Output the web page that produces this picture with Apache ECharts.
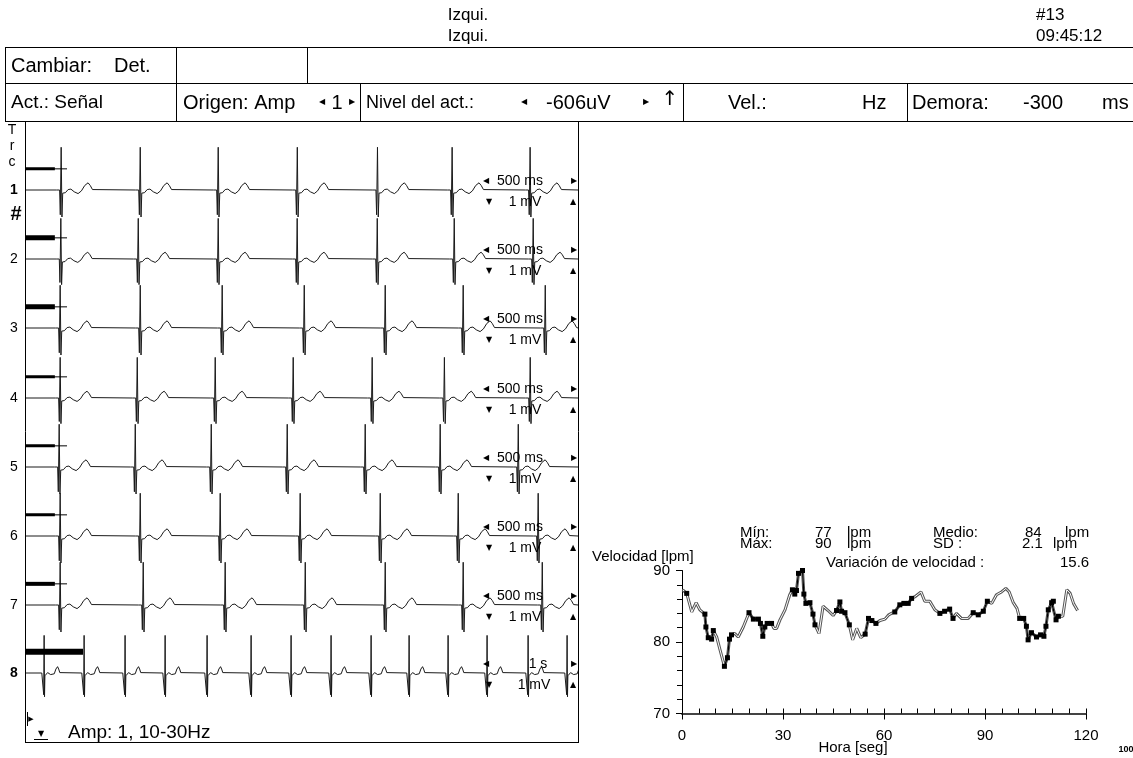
<!DOCTYPE html>
<html>
<head>
<meta charset="utf-8">
<script src="https://cdn.jsdelivr.net/npm/echarts@6/dist/echarts.min.js"></script>
<style>
html, body { margin: 0; padding: 0; background: #fff; }
#main { width: 1133px; height: 758px; }
</style>
</head>
<body>
<div id="main"></div>
<script>
var FONT = "'Liberation Sans', Arial, sans-serif";
var SYM = "'DejaVu Sans', sans-serif";

// picos R (ms) de cada traza; trazas 1-7 muestran 5 s, la traza 8 muestra 10 s
var beatsT1 = [325, 1040, 1745, 2460, 3185, 3860, 4565];
var beatsT2 = [322, 1022, 1745, 2459, 3183, 3879, 4593];
var beatsT3 = [316, 1040, 1781, 2523, 3255, 3960, 4702];
var beatsT4 = [316, 1013, 1718, 2423, 3137, 3790, 4566];
var beatsT5 = [307, 995, 1682, 2369, 3074, 3752, 4458];
var beatsT6 = [316, 1040, 1763, 2486, 3210, 3915, 4638];
var beatsT7 = [316, 1067, 1808, 2532, 3255, 3960, 4675];
var beatsT8 = [344, 1067, 1808, 2532, 3291, 4087, 4810, 5533, 6257, 6944, 7649, 8354, 9096, 9801];

// forma del latido: [ms respecto al pico R, amplitud relativa]
var beatShape = [[-40, 0], [-12, 0], [-6, -0.55], [2, 0.95], [9, -0.6], [16, -0.07], [40, -0.06],
  [65, 0.01], [90, 0.02], [120, -0.04], [155, -0.08], [185, -0.02], [215, 0.1], [245, 0.16],
  [265, 0.1], [285, 0.01], [300, 0]];

var traceBeats = [beatsT1, beatsT2, beatsT3, beatsT4, beatsT5, beatsT6, beatsT7, beatsT8];
var traceSpan = [5000, 5000, 5000, 5000, 5000, 5000, 5000, 10000];
var traceGain = [1, 0.95, 1, 0.95, 1, 1, 1, 0.88];
var traceNames = ['1', '2', '3', '4', '5', '6', '7', '8'];
var traceScale = ['500 ms', '500 ms', '500 ms', '500 ms', '500 ms', '500 ms', '500 ms', '1 s'];
var calEnd = [270, 270, 270, 270, 270, 270, 270, 1050];
var calTail = [380, 380, 380, 380, 380, 380, 380, 1050];
var calLevel = 0.47;

// tendencia de frecuencia cardiaca (lpm) frente a tiempo (s)
var hrTime = [0.2, 1.4, 2.9, 4.2, 5.3, 6.8, 7.1, 7.8, 8.8, 9.3, 10.3, 11.3, 12.6, 13.5, 14.1, 14.7,
  15.7, 16.7, 18.2, 19.9, 21.2, 22.7, 23.3, 24.0, 24.6, 25.3, 26.6, 27.3, 28.1, 29.1, 30.6, 32.0,
  32.8, 33.5, 34.0, 34.6, 35.8, 36.2, 36.8, 38.0, 38.9, 39.5, 40.7, 41.9, 43.4, 44.9, 45.9, 46.9,
  47.4, 48.4, 49.7, 50.7, 51.9, 53.1, 54.4, 55.4, 56.4, 57.6, 58.8, 60.3, 61.4, 62.2, 63.2, 64.7,
  65.9, 67.2, 68.2, 69.1, 71.0, 72.1, 73.6, 75.1, 76.6, 78.0, 79.5, 80.5, 81.5, 83.0, 85.0, 86.5,
  88.0, 89.5, 90.7, 92.0, 93.4, 94.9, 96.2, 97.2, 98.4, 99.5, 100.3, 101.5, 102.3, 102.8, 103.8,
  105.3, 106.5, 107.5, 108.1, 108.8, 109.8, 110.3, 111.1, 111.8, 113.1, 114.3, 115.3, 116.3, 117.5];
var hrValue = [87.3, 86.8, 84.2, 85.5, 84.5, 83.9, 82.1, 80.6, 80.4, 81.6, 80.7, 78.9, 76.6, 77.8, 80.4, 81.0,
  81.2, 80.7, 82.1, 84.1, 83.2, 83.2, 82.6, 80.8, 82.1, 82.6, 82.6, 81.9, 81.9, 83.1, 84.5, 86.6,
  87.3, 86.7, 87.2, 89.6, 90.0, 86.7, 85.4, 85.5, 83.9, 82.4, 81.2, 85.0, 84.4, 83.7, 84.4, 85.6,
  84.3, 84.1, 82.4, 80.3, 81.9, 80.6, 81.1, 83.3, 83.0, 82.6, 83.0, 83.2, 83.8, 84.0, 84.2, 85.2,
  85.4, 85.4, 86.1, 86.3, 87.0, 85.7, 85.7, 84.5, 84.0, 84.3, 84.6, 83.3, 84.0, 83.3, 83.3, 84.1,
  83.8, 84.3, 85.7, 85.4, 86.6, 87.0, 87.5, 87.0, 85.5, 84.7, 83.3, 83.3, 82.2, 80.3, 81.3,
  80.7, 81.0, 80.8, 82.2, 84.5, 85.5, 85.7, 83.1, 83.6, 83.6, 87.3, 86.8, 85.4, 84.4];
// 1 = tramo marcado con cuadrados negros
var hrMarked = [0, 1, 0, 0, 0, 1, 1, 1, 1, 1, 0, 0, 1, 1, 1, 1,
  0, 0, 0, 1, 1, 1, 1, 1, 1, 1, 1, 0, 0, 0, 0, 0,
  1, 1, 1, 1, 1, 1, 1, 1, 1, 1, 0, 0, 0, 0, 1, 1,
  1, 1, 1, 0, 0, 0, 1, 1, 1, 1, 0, 0, 0, 0, 1, 1,
  1, 1, 1, 0, 0, 0, 0, 0, 1, 1, 1, 1, 0, 0, 0, 1,
  1, 1, 1, 0, 0, 0, 0, 0, 0, 0, 1, 1, 1, 1, 1,
  1, 1, 1, 1, 1, 1, 1, 1, 1, 0, 0, 0, 0, 0];

// layout de la pantalla
var traceBase = [190, 259, 328, 398, 467, 536, 605, 673];
var calWidth = [3, 5, 5, 3, 3, 3, 4, 6];

function buildTrace(beats, gain, span) {
  var pts = [[0, 0]];
  beats.forEach(function (b) {
    beatShape.forEach(function (p) {
      pts.push([b + p[0], p[1] * gain]);
    });
  });
  pts.push([span, 0]);
  return pts;
}

function txt(x, y, s, size, opts) {
  opts = opts || {};
  var font = (opts.bold ? 'bold ' : '') + size + 'px ' + (opts.family || FONT);
  return {
    type: 'text', x: x, y: y, silent: true, z: 10,
    style: {
      text: s, font: font, fill: '#000',
      align: opts.align || 'left', textAlign: opts.align || 'left',
      verticalAlign: 'middle', textVerticalAlign: 'middle'
    }
  };
}

function ln(x1, y1, x2, y2, w) {
  return {
    type: 'line', silent: true, z: 5,
    shape: { x1: x1, y1: y1, x2: x2, y2: y2 },
    style: { stroke: '#000', lineWidth: w || 1 }
  };
}

var grids = [], xAxes = [], yAxes = [], series = [];
var graphics = [];

for (var i = 0; i < 8; i++) {
  grids.push({ left: 25, width: 553, top: traceBase[i] - 45, height: 90 });
  xAxes.push({ gridIndex: i, type: 'value', min: 0, max: traceSpan[i], show: false });
  yAxes.push({ gridIndex: i, type: 'value', min: -1, max: 1, show: false });
  series.push({
    type: 'line', xAxisIndex: i, yAxisIndex: i, showSymbol: false, animation: false,
    data: buildTrace(traceBeats[i], traceGain[i], traceSpan[i]),
    lineStyle: { color: '#1a1a1a', width: 1 }, z: 3
  });
  // marca de calibracion
  series.push({
    type: 'line', xAxisIndex: i, yAxisIndex: i, showSymbol: false, animation: false,
    data: [[0, calLevel], [calTail[i], calLevel]],
    lineStyle: { color: '#000', width: 1 }, z: 4
  });
  series.push({
    type: 'line', xAxisIndex: i, yAxisIndex: i, showSymbol: false, animation: false,
    data: [[0, calLevel], [calEnd[i], calLevel]],
    lineStyle: { color: '#000', width: calWidth[i], cap: 'butt' }, z: 4
  });

  var b = traceBase[i];
  graphics.push(txt(14, b, traceNames[i], 14, { align: 'center', bold: i === 0 || i === 7 }));
  graphics.push(txt(486, b - 9, '\u25C0', 8, { family: SYM, align: 'center' }));
  graphics.push(txt(i === 7 ? 538 : 520, b - 9, traceScale[i], 14, { align: 'center' }));
  graphics.push(txt(574, b - 9, '\u25B6', 8, { family: SYM, align: 'center' }));
  graphics.push(txt(489, b + 12, '\u25BC', 8, { family: SYM, align: 'center' }));
  graphics.push(txt(i === 7 ? 534 : 525, b + 12, '1 mV', 14, { align: 'center' }));
  graphics.push(txt(573, b + 12, '\u25B2', 8, { family: SYM, align: 'center' }));
}

// grafico de frecuencia
grids.push({ left: 682, right: 47, top: 570.5, bottom: 44.5 });
xAxes.push({
  gridIndex: 8, type: 'value', min: 0, max: 120, interval: 30, position: 'bottom',
  axisLine: { show: true, onZero: false, lineStyle: { color: '#444', width: 2 } },
  axisTick: { show: true, inside: false, length: 6, lineStyle: { color: '#000' } },
  axisLabel: { margin: 15, fontSize: 15, color: '#000', fontFamily: FONT },
  splitLine: { show: false }
});
xAxes.push({
  gridIndex: 8, type: 'value', min: 0, max: 120, interval: 5, position: 'bottom',
  axisLine: { show: false },
  axisTick: { show: true, inside: true, length: 5, lineStyle: { color: '#000' } },
  axisLabel: { show: false }, splitLine: { show: false }
});
yAxes.push({
  gridIndex: 8, type: 'value', min: 70, max: 90, interval: 10,
  axisLine: { show: true, onZero: false, lineStyle: { color: '#000', width: 1 } },
  axisTick: { show: true, length: 6, lineStyle: { color: '#000' } },
  minorTick: { show: true, splitNumber: 5, length: 5, lineStyle: { color: '#000' } },
  axisLabel: { margin: 12, fontSize: 15, color: '#000', fontFamily: FONT },
  splitLine: { show: false }
});

var hrAll = hrTime.map(function (t, k) { return [t, hrValue[k]]; });
var hrBlack = hrTime.map(function (t, k) { return [t, hrMarked[k] ? hrValue[k] : null]; });

series.push({
  type: 'line', xAxisIndex: 8, yAxisIndex: 8, showSymbol: false, animation: false,
  data: hrAll, lineStyle: { color: '#555', width: 3 }, z: 3
});
series.push({
  type: 'line', xAxisIndex: 8, yAxisIndex: 8, showSymbol: false, animation: false,
  data: hrAll, lineStyle: { color: '#fff', width: 1 }, z: 4
});
series.push({
  type: 'line', xAxisIndex: 8, yAxisIndex: 8, animation: false, connectNulls: false,
  data: hrBlack, symbol: 'rect', symbolSize: 5, showSymbol: true,
  itemStyle: { color: '#000' }, lineStyle: { color: '#000', width: 1.3 }, z: 5
});

// cabecera y tabla
graphics = graphics.concat([
  ln(5, 47.5, 1133, 47.5), ln(5, 83.5, 1133, 83.5), ln(5, 121.5, 1133, 121.5),
  ln(5.5, 47, 5.5, 122), ln(176.5, 47, 176.5, 122), ln(307.5, 47, 307.5, 84),
  ln(360.5, 83, 360.5, 122), ln(683.5, 83, 683.5, 122), ln(907.5, 83, 907.5, 122),
  ln(25.5, 121, 25.5, 742), ln(578.5, 121, 578.5, 742), ln(25, 742.5, 579, 742.5),
  ln(27.5, 712, 27.5, 726), ln(34, 739.5, 48, 739.5),
  txt(468, 15, 'Izqui.', 17, { align: 'center' }),
  txt(468, 36, 'Izqui.', 17, { align: 'center' }),
  txt(1036, 15, '#13', 17), txt(1036, 36, '09:45:12', 17),
  txt(11, 66, 'Cambiar:', 20), txt(114, 66, 'Det.', 20),
  txt(11, 103, 'Act.: Señal', 19), txt(183, 103, 'Origen: Amp', 20),
  txt(322, 102, '\u25C0', 8, { family: SYM, align: 'center' }),
  txt(337, 103, '1', 20, { align: 'center' }),
  txt(352, 102, '\u25B6', 8, { family: SYM, align: 'center' }),
  txt(366, 103, 'Nivel del act.:', 18),
  txt(524, 102, '\u25C0', 8, { family: SYM, align: 'center' }),
  txt(546, 103, '-606uV', 20),
  txt(646, 102, '\u25B6', 8, { family: SYM, align: 'center' }),
  txt(670, 100, '\u2191', 20, { family: SYM, align: 'center' }),
  txt(728, 103, 'Vel.:', 20), txt(862, 103, 'Hz', 20),
  txt(912, 103, 'Demora:', 20), txt(1023, 103, '-300', 20), txt(1102, 103, 'ms', 20),
  txt(12, 130, 'T', 14, { align: 'center' }), txt(12, 146, 'r', 14, { align: 'center' }),
  txt(12, 162, 'c', 14, { align: 'center' }),
  txt(16, 214, '#', 20, { align: 'center', bold: true }),
  txt(31, 719, '\u25B6', 7, { family: SYM, align: 'center' }),
  txt(41, 734, '\u25BC', 8, { family: SYM, align: 'center' }),
  txt(68, 733, 'Amp: 1, 10-30Hz', 19),
  txt(740, 533, 'Mín:', 15), txt(815, 533, '77', 15), txt(847, 533, 'lpm', 15),
  txt(933, 533, 'Medio:', 15), txt(1025, 533, '84', 15), txt(1065, 533, 'lpm', 15),
  txt(740, 544, 'Máx:', 15), txt(815, 544, '90', 15), txt(847, 544, 'lpm', 15),
  txt(933, 544, 'SD :', 15), txt(1022, 544, '2.1', 15), txt(1053, 544, 'lpm', 15),
  txt(826, 563, 'Variación de velocidad :', 15), txt(1060, 563, '15.6', 15),
  txt(592, 557, 'Velocidad [lpm]', 15),
  txt(853, 748, 'Hora [seg]', 15, { align: 'center' }),
  txt(1126, 750, '100', 9, { align: 'center', bold: true })
]);

var myChart = echarts.init(document.getElementById('main'), null, { renderer: 'canvas' });
var option = {
  backgroundColor: '#fff',
  animation: false,
  grid: grids,
  xAxis: xAxes,
  yAxis: yAxes,
  series: series,
  graphic: graphics
};
myChart.setOption(option);
</script>
</body>
</html>
